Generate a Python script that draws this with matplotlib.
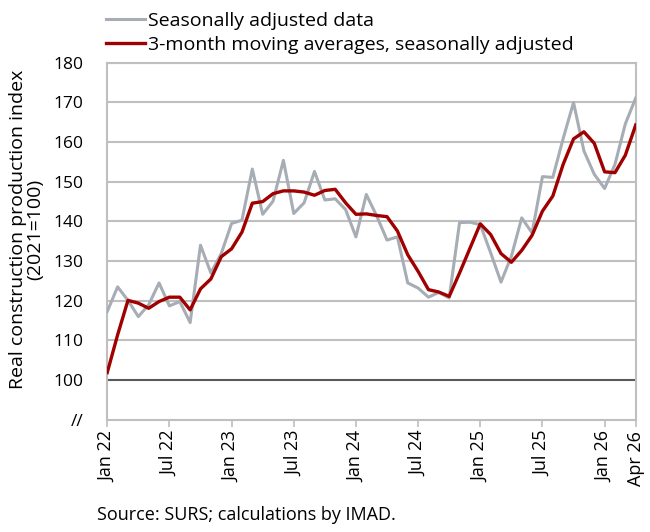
import matplotlib.pyplot as plt
import numpy as np

# monthly index, Jan 2022 .. Apr 2026
months = np.arange(52)

sa_data = [117.3, 123.5, 120.1, 116.0, 119.0, 124.5, 118.7, 119.8, 114.5, 134.0,
           127.0, 131.9, 139.5, 140.3, 153.2, 141.8, 145.1, 155.4, 142.0, 144.7,
           152.6, 145.4, 145.7, 143.0, 136.1, 146.8, 141.4, 135.3, 136.1, 124.5,
           123.2, 120.9, 122.1, 120.7, 139.7, 139.8, 139.2, 132.1, 124.7, 131.2,
           140.9, 137.1, 151.3, 151.1, 160.9, 170.0, 157.8, 151.9, 148.3, 154.4,
           164.6, 171.1]

ma3 = [101.9, 111.4, 120.1, 119.4, 118.1, 119.8, 120.9, 120.9, 117.7, 123.0,
       125.5, 131.1, 133.1, 137.3, 144.6, 145.0, 147.0, 147.7, 147.7, 147.4,
       146.6, 147.8, 148.1, 144.7, 141.8, 141.9, 141.5, 141.2, 137.6, 131.6,
       127.4, 122.8, 122.2, 121.1, 127.0, 133.2, 139.4, 136.7, 131.9, 129.7,
       132.7, 136.5, 142.6, 146.4, 154.4, 160.8, 162.6, 159.7, 152.5, 152.3,
       156.7, 164.3]

tick_pos = [0, 6, 12, 18, 24, 30, 36, 42, 48, 51]
tick_labels = ['Jan 22', 'Jul 22', 'Jan 23', 'Jul 23', 'Jan 24', 'Jul 24',
               'Jan 25', 'Jul 25', 'Jan 26', 'Apr 26']

y_ticks = [90, 100, 110, 120, 130, 140, 150, 160, 170, 180]
y_labels = ['//', '100', '110', '120', '130', '140', '150', '160', '170', '180']

plt.rcParams['font.family'] = ['Open Sans', 'DejaVu Sans']

fig = plt.figure(figsize=(6.5, 5.32), dpi=100)
ax = fig.add_axes([0.165, 0.211, 0.813, 0.671])

grid_col = '#bfbfbf'
for v in y_ticks[2:]:
    ax.axhline(v, color=grid_col, lw=1.5, zorder=1)
ax.axhline(100, color='#595959', lw=1.5, zorder=2)

ax.plot(months, sa_data, color='#a6adb4', lw=2.2, label='Seasonally adjusted data', zorder=3)
ax.plot(months, ma3, color='#a00000', lw=2.4,
        label='3-month moving averages, seasonally adjusted', zorder=4)

ax.set_xlim(0, 51)
ax.set_ylim(90, 180)
ax.set_yticks(y_ticks)
ax.set_yticklabels(y_labels, fontsize=12.5)
ax.set_xticks(tick_pos)
ax.set_xticklabels(tick_labels, rotation=90, fontsize=13)
ax.tick_params(axis='y', length=0, pad=17)
ax.tick_params(axis='x', length=5, color=grid_col, width=1.2, pad=3)

for s in ax.spines.values():
    s.set_color(grid_col)
    s.set_linewidth(1.5)

ax.set_ylabel('Real construction production index\n(2021=100)', fontsize=14,
              linespacing=0.95)
ax.yaxis.set_label_coords(-0.12, 0.534)

ax.legend(loc='lower left', bbox_to_anchor=(-0.002, 1.025), frameon=False,
          fontsize=14, handlelength=2.0, handletextpad=0.15, labelspacing=0.3,
          borderaxespad=0, borderpad=0)

fig.text(0.149, 0.022, 'Source: SURS; calculations by IMAD.', fontsize=13)

fig.savefig('out.png', dpi=100)
